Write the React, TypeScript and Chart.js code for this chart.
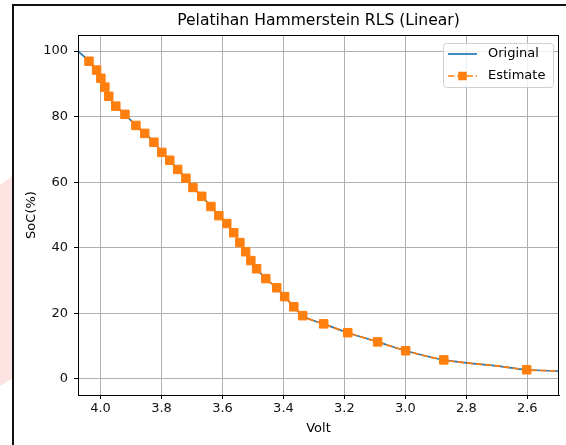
import React, { useEffect, useRef } from "react";
import { Chart, registerables } from "chart.js";

Chart.register(...registerables);

const chartTitle = "Pelatihan Hammerstein RLS (Linear)";
const xLabel = "Volt";
const yLabel = "SoC(%)";
const seriesNames = ["Original", "Estimate"];

const voltage = [
  4.074, 4.038, 4.013, 3.999, 3.986, 3.973, 3.95, 3.92, 3.884, 3.855, 3.825,
  3.799, 3.773, 3.747, 3.72, 3.697, 3.668, 3.638, 3.612, 3.586, 3.563, 3.543,
  3.524, 3.507, 3.488, 3.458, 3.422, 3.396, 3.366, 3.337, 3.268, 3.189, 3.091,
  2.999, 2.874, 2.8, 2.7, 2.602, 2.496,
];
const socOriginal = [
  100, 96.9, 94.2, 91.7, 89.0, 86.2, 83.2, 80.7, 77.3, 74.9, 72.2, 69.1, 66.7,
  63.9, 61.2, 58.4, 55.7, 52.6, 49.8, 47.4, 44.6, 41.6, 38.8, 36.1, 33.6, 30.6,
  27.8, 25.1, 22.0, 19.3, 16.8, 14.1, 11.3, 8.6, 5.8, 4.9, 4.0, 2.8, 2.4,
];
const socEstimate = [
  null, 96.9, 94.2, 91.7, 89.0, 86.2, 83.2, 80.7, 77.3, 74.9, 72.2, 69.1, 66.7,
  63.9, 61.2, 58.4, 55.7, 52.6, 49.8, 47.4, 44.6, 41.6, 38.8, 36.1, 33.6, 30.6,
  27.8, 25.1, 22.0, 19.3, 16.8, 14.1, 11.3, 8.6, 5.8, 4.9, 4.0, 2.8, 2.4,
];
const markerShown = [
  false, true, true, true, true, true, true, true, true, true, true, true, true,
  true, true, true, true, true, true, true, true, true, true, true, true, true,
  true, true, true, true, true, true, true, true, true, false, false, true, false,
];

const xTicks = [4.0, 3.8, 3.6, 3.4, 3.2, 3.0, 2.8, 2.6];
const yTicks = [0, 20, 40, 60, 80, 100];
const xRange = [2.496, 4.074];
const yRange = [-4.9, 104.9];

const BLUE = "#1f77b4";
const ORANGE = "#ff7f0e";
const FONT = '"DejaVu Sans", sans-serif';

const decorPlugin = {
  id: "decor",
  afterDraw(chart: any) {
    const ctx = chart.ctx as CanvasRenderingContext2D;
    const a = chart.chartArea;
    ctx.save();
    ctx.strokeStyle = "#000";
    ctx.lineWidth = 1;
    ctx.strokeRect(Math.round(a.left) + 0.5, Math.round(a.top) + 0.5, Math.round(a.right - a.left) - 1, Math.round(a.bottom - a.top));

    const cx = (a.left + a.right) / 2;
    ctx.fillStyle = "#000";
    ctx.textAlign = "center";
    ctx.textBaseline = "middle";
    ctx.font = `15.6px ${FONT}`;
    ctx.fillText(chartTitle, cx, 21);

    ctx.font = `13px ${FONT}`;
    ctx.fillText(xLabel, cx, 429);
    ctx.save();
    ctx.translate(32, (a.top + a.bottom) / 2);
    ctx.rotate(-Math.PI / 2);
    ctx.fillText(yLabel, 0, 0);
    ctx.restore();

    const bx = 443.5, by = 43.5, bw = 110, bh = 44, r = 3;
    ctx.beginPath();
    ctx.moveTo(bx + r, by);
    ctx.lineTo(bx + bw - r, by);
    ctx.arcTo(bx + bw, by, bx + bw, by + r, r);
    ctx.lineTo(bx + bw, by + bh - r);
    ctx.arcTo(bx + bw, by + bh, bx + bw - r, by + bh, r);
    ctx.lineTo(bx + r, by + bh);
    ctx.arcTo(bx, by + bh, bx, by + bh - r, r);
    ctx.lineTo(bx, by + r);
    ctx.arcTo(bx, by, bx + r, by, r);
    ctx.closePath();
    ctx.fillStyle = "rgba(255,255,255,0.8)";
    ctx.fill();
    ctx.strokeStyle = "rgba(204,204,204,0.9)";
    ctx.lineWidth = 1;
    ctx.stroke();

    ctx.strokeStyle = BLUE;
    ctx.lineWidth = 1.7;
    ctx.beginPath();
    ctx.moveTo(448, 54);
    ctx.lineTo(477, 54);
    ctx.stroke();

    ctx.strokeStyle = ORANGE;
    ctx.setLineDash([6.4, 2.8]);
    ctx.beginPath();
    ctx.moveTo(448, 76);
    ctx.lineTo(477, 76);
    ctx.stroke();
    ctx.setLineDash([]);
    ctx.fillStyle = ORANGE;
    ctx.fillRect(462.5 - 4.25, 76 - 4.25, 8.5, 8.5);

    ctx.fillStyle = "#000";
    ctx.textAlign = "left";
    ctx.textBaseline = "middle";
    ctx.font = `13px ${FONT}`;
    ctx.fillText(seriesNames[0], 488, 54);
    ctx.fillText(seriesNames[1], 488, 76);
    ctx.restore();
  },
};

export default function App() {
  const ref = useRef<HTMLCanvasElement | null>(null);
  useEffect(() => {
    if (!ref.current) return;
    const orig = voltage.map((v, i) => ({ x: v, y: socOriginal[i] }));
    const est = voltage.map((v, i) => ({ x: v, y: socEstimate[i] }));
    const chart = new Chart(ref.current, {
      type: "line",
      data: {
        datasets: [
          {
            label: seriesNames[0],
            data: orig as any,
            borderColor: BLUE,
            borderWidth: 1.7,
            pointRadius: 0,
            cubicInterpolationMode: "monotone",
            order: 1,
          },
          {
            label: seriesNames[1],
            data: est as any,
            borderColor: ORANGE,
            backgroundColor: ORANGE,
            borderWidth: 1.7,
            borderDash: [6.4, 2.8],
            pointStyle: "rect",
            pointRadius: markerShown.map((m) => (m ? 6 : 0)),
            pointBorderWidth: 1,
            pointBorderColor: ORANGE,
            pointBackgroundColor: ORANGE,
            cubicInterpolationMode: "monotone",
            order: 0,
          },
        ],
      },
      options: {
        animation: false,
        responsive: false,
        devicePixelRatio: 1,
        events: [],
        layout: { padding: { left: 0, right: 7, top: 35, bottom: 0 } },
        plugins: {
          legend: { display: false },
          title: { display: false },
          tooltip: { enabled: false },
        },
        scales: {
          x: {
            type: "linear",
            reverse: true,
            min: xRange[0],
            max: xRange[1],
            afterBuildTicks: (s: any) => {
              s.ticks = xTicks.map((v) => ({ value: v }));
            },
            afterFit: (s: any) => {
              s.height = 50;
            },
            ticks: {
              callback: (v: any) => Number(v).toFixed(1),
              font: { family: FONT, size: 13 },
              color: "#111",
              padding: 2,
              maxRotation: 0,
              autoSkip: false,
            },
            grid: {
              color: "#b0b0b0",
              lineWidth: 1,
              tickColor: "#000",
              tickLength: 4,
              tickWidth: 1,
            },
            border: { display: true, color: "#000", width: 1 },
          },
          y: {
            type: "linear",
            min: yRange[0],
            max: yRange[1],
            afterBuildTicks: (s: any) => {
              s.ticks = yTicks.map((v) => ({ value: v }));
            },
            afterFit: (s: any) => {
              s.width = 78;
            },
            ticks: {
              callback: (v: any) => String(v),
              font: { family: FONT, size: 13 },
              color: "#111",
              padding: 6,
              autoSkip: false,
            },
            grid: {
              color: "#b0b0b0",
              lineWidth: 1,
              tickColor: "#000",
              tickLength: 4,
              tickWidth: 1,
            },
            border: { display: true, color: "#000", width: 1 },
          },
        },
      },
      plugins: [decorPlugin],
    } as any);
    return () => chart.destroy();
  }, []);

  return (
    <div
      style={{
        position: "fixed",
        left: 0,
        top: 0,
        width: 566,
        height: 445,
        background: "#fff",
        overflow: "hidden",
      }}
    >
      <div
        style={{
          position: "absolute",
          left: 0,
          top: 170,
          width: 13,
          height: 220,
          background: "#fde2e2",
          clipPath: "polygon(0px 15px, 13px 6px, 13px 208px, 0px 216px)",
        }}
      />
      <div style={{ position: "absolute", left: 12, top: 4, width: 2, height: 441, background: "#111" }} />
      <div style={{ position: "absolute", left: 12, top: 4, width: 554, height: 2, background: "#111" }} />
      <canvas
        ref={ref}
        width={566}
        height={445}
        style={{ position: "absolute", left: 0, top: 0, width: 566, height: 445 }}
      />
    </div>
  );
}
